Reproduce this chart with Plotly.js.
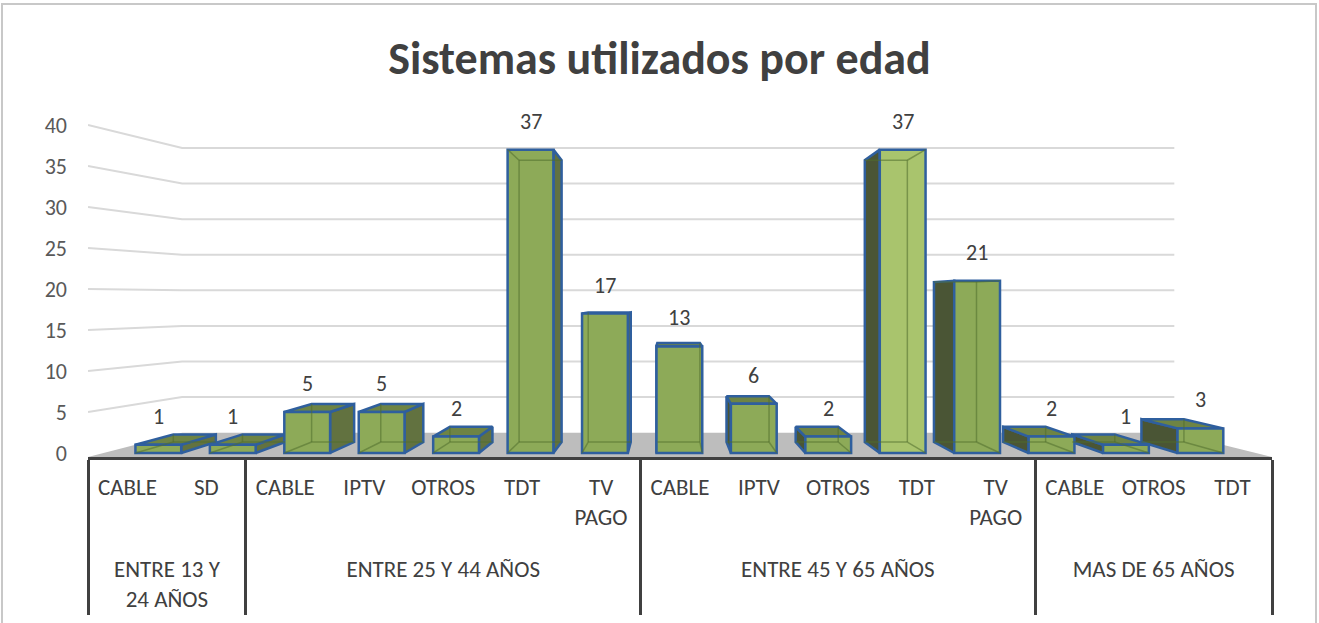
<!DOCTYPE html>
<html>
<head>
<meta charset="utf-8">
<script src="https://cdn.plot.ly/plotly-3.0.1.min.js"></script>
<style>
  html, body { margin: 0; padding: 0; background: #ffffff; overflow: hidden; }
  #chart { width: 1319px; height: 623px; position: absolute; left: 0; top: 0; }
  #frame { position: absolute; left: 1px; top: 3px; width: 1312px; height: 640px;
           border: 2px solid #c8c8c8; pointer-events: none; }
</style>
</head>
<body>
<div id="chart"></div>
<div id="frame"></div>
<script>
// ---------------- data ----------------
const ageGroups = [
  'ENTRE 13 Y<br>24 AÑOS', 'ENTRE 13 Y<br>24 AÑOS',
  'ENTRE 25 Y 44 AÑOS', 'ENTRE 25 Y 44 AÑOS', 'ENTRE 25 Y 44 AÑOS', 'ENTRE 25 Y 44 AÑOS', 'ENTRE 25 Y 44 AÑOS',
  'ENTRE 45 Y 65 AÑOS', 'ENTRE 45 Y 65 AÑOS', 'ENTRE 45 Y 65 AÑOS', 'ENTRE 45 Y 65 AÑOS', 'ENTRE 45 Y 65 AÑOS',
  'MAS DE 65 AÑOS', 'MAS DE 65 AÑOS', 'MAS DE 65 AÑOS'
];
const systems = [
  'CABLE', 'SD',
  'CABLE', 'IPTV', 'OTROS', 'TDT', 'TV PAGO',
  'CABLE', 'IPTV', 'OTROS', 'TDT', 'TV PAGO',
  'CABLE', 'OTROS', 'TDT'
];
const counts = [1, 1, 5, 5, 2, 37, 17, 13, 6, 2, 37, 21, 2, 1, 3];
const yTicks = [0, 5, 10, 15, 20, 25, 30, 35, 40];
const chartTitle = 'Sistemas utilizados por edad';

// ---------------- style / projection parameters ----------------
const FONT = 'Carlito, Calibri, Lato, sans-serif';
const FRONT = '#8daa58', FRONT_HI = '#a9c46d', TOP = '#6e8444';
const SIDE_R = '#627240', SIDE_L = '#4a5535';
const EDGE = '#2f5f9e', INNER = 'rgba(80,110,45,0.55)';
const N = counts.length;
const X0 = -0.5, X1 = N - 0.5, YMIN = -0.49, YMAX = 40.98;
const VX = 6.86, VY = 18.8;          // vanishing point (axis units)
const KF = 0.943;                    // depth of the bars' front plane (x only)
const KB = 0.929;                    // depth of the bars
const KWX = 0.838, KWY = 0.868;      // depth of back wall
const BW = 0.58;                     // bar front width
const back = (x, y) => [VX + (x - VX) * KB, VY + (y - VY) * KB];
const cx = i => VX + (i - VX) * KF;  // projected centre of bar i

// two-level tick labels: wrap long ones, pad the first row to three lines
const wrap = s => s.replace(/^(TV) (PAGO)$/, '$1<br>$2');
const padRow = s => { const n = s.split('<br>').length; return s + '<br>\u00a0'.repeat(3 - n); };
const subLabels = systems.map(s => padRow(wrap(s)));

const traces = [];

// side + top faces (base linear axis, drawn under the front faces)
counts.forEach((v, i) => {
  const c = cx(i), x0 = c - BW / 2, x1 = c + BW / 2;
  const FL = [x0, 0], FR = [x1, 0], FTL = [x0, v], FTR = [x1, v];
  const BL = back(x0, 0), BR = back(x1, 0), BTL = back(x0, v), BTR = back(x1, v);
  const right = c < VX;
  const side = right ? [FR, FTR, BTR, BR, FR] : [FL, FTL, BTL, BL, FL];
  traces.push({
    type: 'scatter', mode: 'lines', xaxis: 'x', yaxis: 'y',
    x: side.map(p => p[0]), y: side.map(p => p[1]),
    fill: 'toself', fillcolor: right ? SIDE_R : SIDE_L, line: { color: EDGE, width: 2.5 },
    hoverinfo: 'skip', showlegend: false
  });
  if (v < VY) {
    const top = [FTL, FTR, BTR, BTL, FTL];
    traces.push({
      type: 'scatter', mode: 'lines', xaxis: 'x', yaxis: 'y',
      x: top.map(p => p[0]), y: top.map(p => p[1]),
      fill: 'toself', fillcolor: TOP, line: { color: EDGE, width: 2.5 },
      hoverinfo: 'skip', showlegend: false
    });
  }
});

// front faces: the real bars on the multicategory axis
traces.push({
  type: 'bar', xaxis: 'x2', yaxis: 'y',
  x: [ageGroups, subLabels], y: counts,
  width: BW,
  offset: counts.map((v, i) => cx(i) - i - BW / 2),
  marker: { color: counts.map((v, i) => i === 10 ? FRONT_HI : FRONT), line: { color: EDGE, width: 2.5 } },
  hoverinfo: 'y', showlegend: false
});

// hidden edges seen through the translucent boxes
const hx = [], hy = [];
const seg = (a, b) => { hx.push(a[0], b[0], null); hy.push(a[1], b[1], null); };
counts.forEach((v, i) => {
  const c = cx(i), x0 = c - BW / 2, x1 = c + BW / 2;
  const FL = [x0, 0], FR = [x1, 0], FTL = [x0, v], FTR = [x1, v];
  const BL = back(x0, 0), BR = back(x1, 0), BTL = back(x0, v), BTR = back(x1, v);
  seg(BL, BR);
  if (c < VX) {
    seg(BL, BTL); seg(FL, BL);
    if (v >= VY) { seg(FTL, BTL); seg(BTL, BTR); }
  } else {
    seg(BR, BTR); seg(FR, BR);
    if (v >= VY) { seg(FTR, BTR); seg(BTL, BTR); }
  }
});
traces.push({
  type: 'scatter', mode: 'lines', xaxis: 'x3', yaxis: 'y',
  x: hx, y: hy, line: { color: INNER, width: 1.5 },
  hoverinfo: 'skip', showlegend: false
});

// ---------------- walls: floor + perspective gridlines ----------------
const wbx = x => VX + (x - VX) * KWX;
const wby = y => VY + (y - VY) * KWY;
const shapes = [];
shapes.push({
  type: 'path', xref: 'x', yref: 'y', layer: 'below',
  path: `M ${X0},${YMIN} L ${X1},${YMIN} L ${wbx(X1)},${wby(0)} L ${wbx(X0)},${wby(0)} Z`,
  fillcolor: '#bdbdbd', line: { width: 0 }
});
yTicks.filter(t => t > 0).forEach(t => {
  shapes.push({
    type: 'path', xref: 'x', yref: 'y', layer: 'below',
    path: `M ${X0},${t} L ${wbx(X0)},${wby(t)} L ${wbx(X1)},${wby(t)}`,
    line: { color: '#d9d9d9', width: 2 }
  });
});

// data labels
const annotations = counts.map((v, i) => ({
  x: cx(i), y: v, xref: 'x', yref: 'y', text: String(v),
  showarrow: false, yanchor: 'bottom', yshift: 13,
  font: { family: FONT, size: 22, color: '#404040' }
}));

const layout = {
  width: 1319, height: 623,
  paper_bgcolor: '#ffffff', plot_bgcolor: 'rgba(0,0,0,0)',
  margin: { l: 88, r: 47, t: 117, b: 166 },
  font: { family: FONT, color: '#404040' },
  title: {
    text: '<b>' + chartTitle + '</b>',
    x: 0.5, xanchor: 'center', y: 0.907, yanchor: 'middle', yref: 'container',
    font: { family: FONT, size: 46, color: '#404040' }
  },
  xaxis: { type: 'linear', range: [X0, X1], visible: false, fixedrange: true },
  xaxis2: {
    type: 'multicategory', overlaying: 'x', anchor: 'y', side: 'bottom',
    range: [X0, X1], showline: true, linecolor: '#404040', linewidth: 3,
    showdividers: true, dividercolor: '#404040', dividerwidth: 3,
    ticks: '', showgrid: false, ticklabelstandoff: 7,
    tickfont: { family: FONT, size: 23, color: '#404040' }
  },
  xaxis3: { type: 'linear', overlaying: 'x', range: [X0, X1], visible: false },
  yaxis: {
    range: [YMIN, YMAX], tickvals: yTicks, ticktext: yTicks.map(String),
    showgrid: false, zeroline: false, showline: false, ticks: '',
    ticklabelstandoff: 20,
    tickfont: { family: FONT, size: 22, color: '#595959' }
  },
  shapes: shapes,
  annotations: annotations,
  showlegend: false
};

Plotly.newPlot('chart', traces, layout, { displayModeBar: false, staticPlot: true });
</script>
</body>
</html>
